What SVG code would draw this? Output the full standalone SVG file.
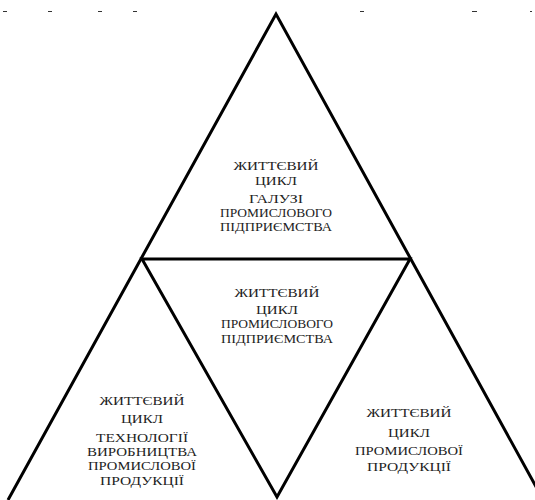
<svg xmlns="http://www.w3.org/2000/svg" width="535" height="500" viewBox="0 0 535 500">
<style>
.ln{stroke:#000;stroke-width:3;fill:none;stroke-linejoin:miter}
.t{font-family:"Liberation Serif","Times New Roman",serif;font-size:12px;fill:#222;text-anchor:middle}
.d{fill:#333}
</style>
<rect width="535" height="500" fill="#fff"/>
<g id="marks">
<rect class="d" x="3" y="11" width="4" height="1"/>
<rect class="d" x="48" y="11" width="4" height="1"/>
<rect class="d" x="98" y="11" width="4" height="1"/>
<rect class="d" x="133" y="11" width="4" height="1"/>
<rect class="d" x="360" y="11" width="4" height="1"/>
<rect class="d" x="472" y="11" width="5" height="1"/>
<rect class="d" x="530" y="11" width="2" height="1"/>
</g>
<g id="connectors">
<polyline class="ln" points="8,500 276,14 545,503"/>
<polygon class="ln" points="142,259 410,259 277,497"/>
</g>
<g id="top">
<text class="t" x="276" y="170" textLength="85" lengthAdjust="spacingAndGlyphs">ЖИТТЄВИЙ</text>
<text class="t" x="276" y="185" textLength="42" lengthAdjust="spacingAndGlyphs">ЦИКЛ</text>
<text class="t" x="276" y="203" textLength="54" lengthAdjust="spacingAndGlyphs">ГАЛУЗІ</text>
<text class="t" x="276" y="217" textLength="112" lengthAdjust="spacingAndGlyphs">ПРОМИСЛОВОГО</text>
<text class="t" x="276" y="231" textLength="112" lengthAdjust="spacingAndGlyphs">ПІДПРИЄМСТВА</text>
</g>
<g id="middle">
<text class="t" x="277" y="297" textLength="85" lengthAdjust="spacingAndGlyphs">ЖИТТЄВИЙ</text>
<text class="t" x="277" y="314" textLength="42" lengthAdjust="spacingAndGlyphs">ЦИКЛ</text>
<text class="t" x="277" y="328" textLength="112" lengthAdjust="spacingAndGlyphs">ПРОМИСЛОВОГО</text>
<text class="t" x="277" y="343" textLength="112" lengthAdjust="spacingAndGlyphs">ПІДПРИЄМСТВА</text>
</g>
<g id="left">
<text class="t" x="142" y="405" textLength="85" lengthAdjust="spacingAndGlyphs">ЖИТТЄВИЙ</text>
<text class="t" x="142" y="423" textLength="42" lengthAdjust="spacingAndGlyphs">ЦИКЛ</text>
<text class="t" x="142" y="442" textLength="92" lengthAdjust="spacingAndGlyphs">ТЕХНОЛОГІЇ</text>
<text class="t" x="142" y="456" textLength="110" lengthAdjust="spacingAndGlyphs">ВИРОБНИЦТВА</text>
<text class="t" x="142" y="470" textLength="108" lengthAdjust="spacingAndGlyphs">ПРОМИСЛОВОЇ</text>
<text class="t" x="142" y="485" textLength="84" lengthAdjust="spacingAndGlyphs">ПРОДУКЦІЇ</text>
</g>
<g id="right">
<text class="t" x="409" y="417" textLength="85" lengthAdjust="spacingAndGlyphs">ЖИТТЄВИЙ</text>
<text class="t" x="409" y="437" textLength="42" lengthAdjust="spacingAndGlyphs">ЦИКЛ</text>
<text class="t" x="409" y="455" textLength="108" lengthAdjust="spacingAndGlyphs">ПРОМИСЛОВОЇ</text>
<text class="t" x="409" y="471" textLength="84" lengthAdjust="spacingAndGlyphs">ПРОДУКЦІЇ</text>
</g>
</svg>
